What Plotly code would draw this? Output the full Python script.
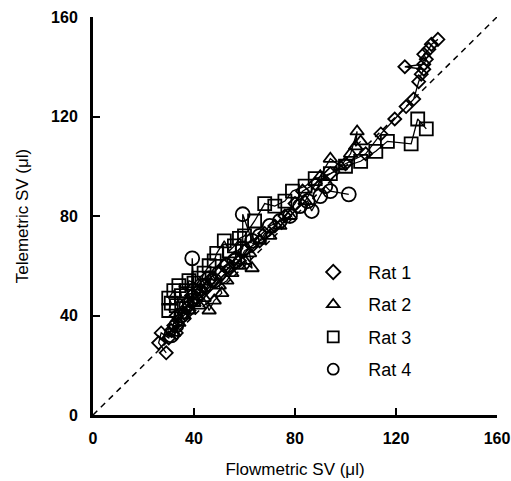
import plotly.graph_objects as go

# ---- data ----
rat1_x = [29, 26, 27, 30, 31, 32, 33, 34, 33, 36, 37, 38, 40, 39, 41, 43, 44, 45, 47, 48, 50, 52, 54, 56, 58, 60, 63, 66, 68, 72, 76, 80, 83, 88, 94, 100, 108, 114, 119.5, 124, 127, 129, 130, 131, 123.5, 131, 132, 131, 133, 134, 136.6]
rat1_y = [25, 29, 33, 31, 34, 36, 33, 38, 40, 41, 43, 42, 46, 48, 47, 50, 52, 51, 55, 54, 57, 60, 59, 63, 62, 66, 68, 70, 73, 76, 80, 85, 90, 93, 97, 101, 105, 113, 119, 124, 127, 134, 137, 139, 140, 141, 143, 145, 147, 149, 151]

rat2_x = [32, 34, 36, 38, 40, 42, 44, 46, 48, 51, 50, 53, 55, 58, 60, 63, 62, 66, 70, 74, 78, 84, 90, 94, 98, 102, 104.6, 104, 106]
rat2_y = [33, 37, 40, 42, 45, 44, 47, 42, 46, 49, 52, 54, 57, 60, 62, 59, 65, 70, 72, 76, 80, 86, 96, 103, 100, 105, 114, 108, 110]

rat3_x = [30, 31, 30, 32, 33, 35, 34, 37, 38, 40, 42, 44, 46, 48, 49, 52, 54, 56, 58, 60, 64, 68, 72, 76, 79, 84, 88, 94, 100, 106, 112, 116.6, 126, 128.6, 132]
rat3_y = [42, 45, 47, 50, 44, 48, 52, 50, 54, 53, 55, 57, 60, 62, 65, 70, 66, 68, 71, 72, 78, 85, 84, 86, 90, 92, 95, 97, 100, 102, 106, 110, 109, 119, 115]

rat4_x = [31, 33, 35, 37, 39, 39.3, 40, 42, 44, 46, 48, 50, 53, 56, 59.3, 59.3, 63, 66, 70, 74, 78, 82, 85, 86.6, 90, 92, 94, 101.3]
rat4_y = [32, 36, 40, 44, 46, 63, 50, 49, 52, 55, 54, 57, 60, 62, 67, 80.7, 70, 72, 76, 78, 80, 84, 86, 82, 88, 92, 90, 88.7]

rat_names = ["Rat 1", "Rat 2", "Rat 3", "Rat 4"]
rat_symbols = ["diamond-open", "triangle-up-open", "square-open", "circle-open"]
rat_sizes = [10, 12, 13, 14]

identity = [0, 160]
tick_vals = [0, 40, 80, 120, 160]
tick_text = ["0", "40", "80", "120", "160"]

fig = go.Figure()

fig.add_trace(go.Scatter(x=identity, y=identity, mode="lines",
                         line=dict(color="black", width=1.5, dash="6px,5px"),
                         showlegend=False, hoverinfo="skip"))

series = [(rat1_x, rat1_y), (rat2_x, rat2_y), (rat3_x, rat3_y), (rat4_x, rat4_y)]
for (xs, ys), name, sym, sz in zip(series, rat_names, rat_symbols, rat_sizes):
    fig.add_trace(go.Scatter(x=xs, y=ys, mode="lines+markers", name=name,
                             line=dict(color="black", width=1.3),
                             marker=dict(symbol=sym, size=sz, color="black",
                                         line=dict(color="black", width=1.8)),
                             showlegend=False))

for i, (name, sym) in enumerate(zip(rat_names, rat_symbols)):
    fig.add_trace(go.Scatter(x=[None], y=[None], mode="markers", name=name,
                             legendgroup=name,
                             marker=dict(symbol=sym, size=11, color="black",
                                         line=dict(color="black", width=1.8))))

axis_common = dict(range=[0, 160], tickvals=tick_vals, ticktext=tick_text,
                   showline=True, linewidth=3, linecolor="black",
                   ticks="inside", ticklen=7, tickwidth=2, tickcolor="black",
                   showgrid=False, zeroline=False, mirror=False, automargin=False,
                   ticklabeloverflow="allow",
                   tickfont=dict(family="Liberation Sans, Arial", size=16, color="black", weight="bold"),
                   title_font=dict(family="Liberation Sans, Arial", size=17, color="black"))

fig.update_layout(
    width=511, height=481,
    margin=dict(l=93, r=14, t=17, b=66),
    paper_bgcolor="white", plot_bgcolor="white",
    xaxis=dict(axis_common, ticklabelstandoff=7, title=dict(text="Flowmetric SV (μl)", standoff=17)),
    yaxis=dict(axis_common, ticklabelstandoff=9, title=dict(text="Telemetric SV (μl)", standoff=19)),
    legend=dict(x=0.508, y=0.405, xanchor="left", yanchor="top",
                font=dict(family="Liberation Sans, Arial", size=18, color="black"),
                tracegroupgap=6, bgcolor="rgba(0,0,0,0)", itemwidth=60),
)

fig.write_html("out.html", config={"displayModeBar": False},
               post_script="document.body.style.margin='0';document.body.style.overflow='hidden';")
